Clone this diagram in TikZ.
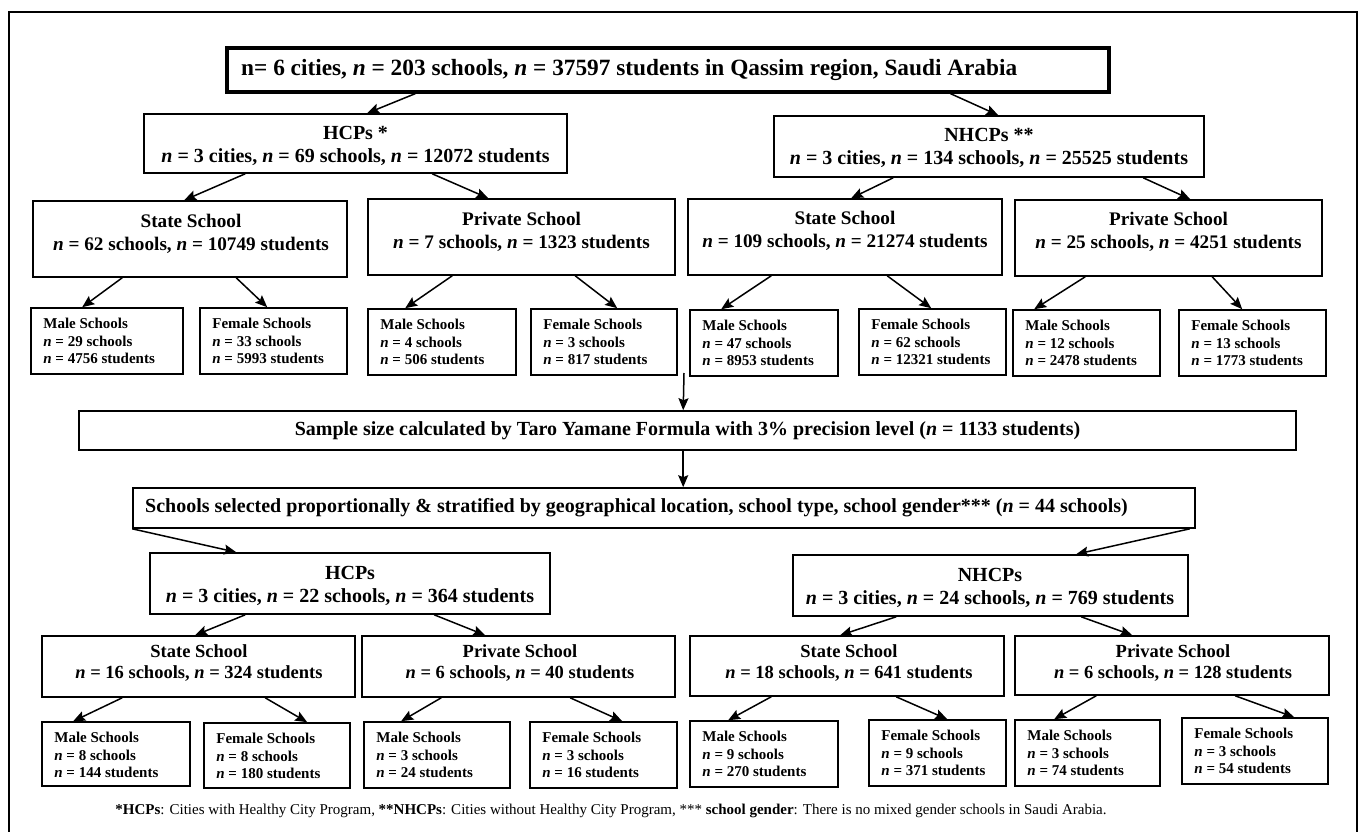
\documentclass[tikz,border=0pt]{standalone}
\usepackage{fontspec}
\setmainfont{Liberation Serif}
\usetikzlibrary{arrows.meta,fit}
\newcommand\nn{\textit{n}}
\newcommand\szTop{\fontsize{23.3}{28}\selectfont}
\newcommand\szA{\fontsize{20}{23}\selectfont}
\newcommand\szS{\fontsize{19.2}{23}\selectfont}
\newcommand\szSb{\fontsize{18.5}{20.5}\selectfont}
\newcommand\szL{\fontsize{15}{17.5}\selectfont}
\newcommand\szF{\fontsize{15}{17}\selectfont}
\tikzset{
  box/.style={draw, line width=1.6pt, inner sep=0pt},
  topbox/.style={draw, line width=3.2pt, inner sep=0pt},
  txt/.style={inner sep=0pt, align=center},
  leaftxt/.style={inner sep=0pt, align=left, font=\bfseries\szL},
  arr/.style={line width=1.5pt, -{Stealth[length=12pt,width=10pt,inset=2pt]}},
}
\newcommand\leafbox[8]{%
  \node[box, fit={(#2,#3)(#4,#5)}] (#1) {};
  \node[leaftxt, anchor=north west] (#1t) at ([xshift=13pt,yshift=-11pt]#1.north west)
    {#6\\\nn{} = #7 schools\\\nn{} = #8 students};
}
\begin{document}
\begin{tikzpicture}[x=1pt,y=-1pt]
\useasboundingbox (0,0) rectangle (1360,832);
\fill[white] (0,0) rectangle (1360,832);
% outer frame
\draw[line width=2pt] (9,832) -- (9,12) -- (1357,12) -- (1357,832);

% top
\node[topbox, fit={(227,48)(1109,92)}] (T) {};
\node[txt, anchor=west, font=\bfseries\szTop] (Tt) at (241,70)
  {n= 6 cities, \nn{} = 203 schools, \nn{} = 37597 students in Qassim region, Saudi Arabia};

% level 2
\node[box, fit={(144,114)(567,173)}] (A1) {};
\node[txt, font=\bfseries\szA] (A1t) at (355.5,145.5) {HCPs *\\\nn{} = 3 cities, \nn{} = 69 schools, \nn{} = 12072 students};
\node[box, fit={(774,116)(1204,177)}] (A2) {};
\node[txt, font=\bfseries\szA] (A2t) at (989,148) {NHCPs **\\\nn{} = 3 cities, \nn{} = 134 schools, \nn{} = 25525 students};

% level 3
\node[box, fit={(33,201)(347,277)}] (S1) {};
\node[txt, font=\bfseries\szS] (S1t) at (191,234) {State School\\\nn{} = 62 schools, \nn{} = 10749 students};
\node[box, fit={(368,199)(675,275)}] (P1) {};
\node[txt, font=\bfseries\szS] (P1t) at (521.5,232) {Private School\\\nn{} = 7 schools, \nn{} = 1323 students};
\node[box, fit={(688,199)(1002,275)}] (S2) {};
\node[txt, font=\bfseries\szS] (S2t) at (845,231) {State School\\\nn{} = 109 schools, \nn{} = 21274 students};
\node[box, fit={(1015,200)(1322,276)}] (P2) {};
\node[txt, font=\bfseries\szS] (P2t) at (1168.5,232) {Private School\\\nn{} = 25 schools, \nn{} = 4251 students};

% leaves top
\leafbox{L1}{31}{308}{183}{374}{Male Schools}{29}{4756}
\leafbox{L2}{200}{308}{347}{374}{Female Schools}{33}{5993}
\leafbox{L3}{368}{309}{516}{375}{Male Schools}{4}{506}
\leafbox{L4}{531}{309}{677}{375}{Female Schools}{3}{817}
\leafbox{L5}{690}{310}{838}{376}{Male Schools}{47}{8953}
\leafbox{L6}{859}{309}{1006}{375}{Female Schools}{62}{12321}
\leafbox{L7}{1013}{310}{1160}{376}{Male Schools}{12}{2478}
\leafbox{L8}{1179}{310}{1326}{376}{Female Schools}{13}{1773}

% sample & schools
\node[box, fit={(79,411)(1296,450)}] (Sm) {};
\node[txt, font=\bfseries\szA] (Smt) at (687.5,431) {Sample size calculated by Taro Yamane Formula with 3\% precision level (\nn{} = 1133 students)};
\node[box, fit={(133,488)(1195,528)}] (Sc) {};
\node[txt, anchor=west, font=\bfseries\szA] (Sct) at (145,508) {Schools selected proportionally \& stratified by geographical location, school type, school gender*** (\nn{} = 44 schools)};

% level 2 bottom
\node[box, fit={(150,553)(550,614)}] (H2) {};
\node[txt, font=\bfseries\szA] (H2t) at (350,585.5) {HCPs\\\nn{} = 3 cities, \nn{} = 22 schools, \nn{} = 364 students};
\node[box, fit={(793,555)(1188,616)}] (N2) {};
\node[txt, font=\bfseries\szA] (N2t) at (990,587.5) {NHCPs\\\nn{} = 3 cities, \nn{} = 24 schools, \nn{} = 769 students};

% level 3 bottom
\node[box, fit={(42,636)(355,697)}] (S3) {};
\node[txt, font=\bfseries\szSb] (S3t) at (199,663) {State School\\\nn{} = 16 schools, \nn{} = 324 students};
\node[box, fit={(362,636)(675,697)}] (P3) {};
\node[txt, font=\bfseries\szSb] (P3t) at (520,663) {Private School\\\nn{} = 6 schools, \nn{} = 40 students};
\node[box, fit={(690,636)(1004,696)}] (S4) {};
\node[txt, font=\bfseries\szSb] (S4t) at (849,663) {State School\\\nn{} = 18 schools, \nn{} = 641 students};
\node[box, fit={(1015,636)(1329,695)}] (P4) {};
\node[txt, font=\bfseries\szSb] (P4t) at (1173,663) {Private School\\\nn{} = 6 schools, \nn{} = 128 students};

% leaves bottom
\leafbox{B1}{42}{722}{190}{786}{Male Schools}{8}{144}
\leafbox{B2}{204}{723}{350}{788}{Female Schools}{8}{180}
\leafbox{B3}{364}{722}{510}{788}{Male Schools}{3}{24}
\leafbox{B4}{530}{722}{677}{788}{Female Schools}{3}{16}
\leafbox{B5}{690}{721}{838}{787}{Male Schools}{9}{270}
\leafbox{B6}{869}{720}{1006}{786}{Female Schools}{9}{371}
\leafbox{B7}{1015}{720}{1160}{786}{Male Schools}{3}{74}
\leafbox{B8}{1182}{718}{1328}{784}{Female Schools}{3}{54}

% footer
\node[inner sep=0pt, font=\szF] (foot) at (611,811) {\textbf{*HCPs}: Cities with Healthy City Program, \textbf{**NHCPs}: Cities without Healthy City Program, *** \textbf{school gender}: There is no mixed gender schools in Saudi Arabia.};

% arrows
\draw[arr] ([xshift=190pt]T.south west) -- ([xshift=224pt]A1.north west);
\draw[arr] ([xshift=725pt]T.south west) -- ([xshift=225pt]A2.north west);
\draw[arr] ([xshift=102pt]A1.south west) -- ([xshift=152pt]S1.north west);
\draw[arr] ([xshift=289pt]A1.south west) -- ([xshift=121pt]P1.north west);
\draw[arr] ([xshift=120pt]A2.south west) -- ([xshift=164pt]S2.north west);
\draw[arr] ([xshift=370pt]A2.south west) -- ([xshift=176pt]P2.north west);
\draw[arr] ([xshift=90pt]S1.south west) -- ([xshift=52pt]L1.north west);
\draw[arr] ([xshift=204pt]S1.south west) -- ([xshift=68pt]L2.north west);
\draw[arr] ([xshift=85pt]P1.south west) -- ([xshift=38pt]L3.north west);
\draw[arr] ([xshift=208pt]P1.south west) -- ([xshift=87pt]L4.north west);
\draw[arr] ([xshift=84pt]S2.south west) -- ([xshift=32pt]L5.north west);
\draw[arr] ([xshift=200pt]S2.south west) -- ([xshift=73pt]L6.north west);
\draw[arr] ([xshift=71pt]P2.south west) -- ([xshift=22pt]L7.north west);
\draw[arr] ([xshift=198pt]P2.south west) -- ([xshift=64pt]L8.north west);
\coordinate (c1) at (684,373);
\draw[arr] (c1) -- ([xshift=605pt]Sm.north west);
\draw[arr] ([xshift=605pt]Sm.south west) -- ([xshift=551pt]Sc.north west);
\draw[arr] (Sc.south west) -- ([xshift=87pt]H2.north west);
\draw[arr] ([xshift=-6pt]Sc.south east) -- ([xshift=284pt]N2.north west);
\draw[arr] ([xshift=96pt]H2.south west) -- ([xshift=154pt]S3.north west);
\draw[arr] ([xshift=285pt]H2.south west) -- ([xshift=124pt]P3.north west);
\draw[arr] ([xshift=104pt]N2.south west) -- ([xshift=151pt]S4.north west);
\draw[arr] ([xshift=289pt]N2.south west) -- ([xshift=118pt]P4.north west);
\draw[arr] ([xshift=81pt]S3.south west) -- ([xshift=32pt]B1.north west);
\draw[arr] ([xshift=224pt]S3.south west) -- ([xshift=104pt]B2.north west);
\draw[arr] ([xshift=80pt]P3.south west) -- ([xshift=38pt]B3.north west);
\draw[arr] ([xshift=209pt]P3.south west) -- ([xshift=93pt]B4.north west);
\draw[arr] ([xshift=82pt]S4.south west) -- ([xshift=39pt]B5.north west);
\draw[arr] ([xshift=207pt]S4.south west) -- ([xshift=79pt]B6.north west);
\draw[arr] ([xshift=82pt]P4.south west) -- ([xshift=40pt]B7.north west);
\draw[arr] ([xshift=221pt]P4.south west) -- ([xshift=113pt]B8.north west);
\end{tikzpicture}
\end{document}
